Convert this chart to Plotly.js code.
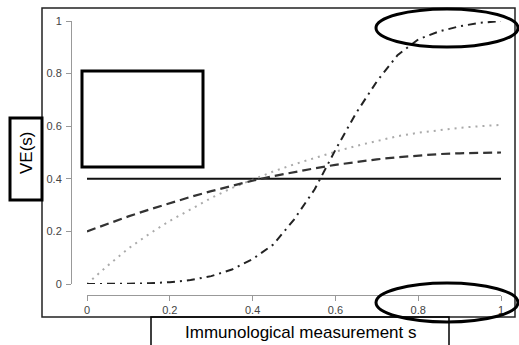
<!DOCTYPE html>
<html>
<head>
<meta charset="utf-8">
<script src="https://cdn.plot.ly/plotly-3.0.1.min.js"></script>
<style>html,body{margin:0;padding:0;background:#fff;}#chart{width:519px;height:345px;}</style>
</head>
<body>
<div id="chart"></div>
<script>
// Immunological measurement s
const sValues = [0, 0.05, 0.1, 0.15, 0.2, 0.25, 0.3, 0.35, 0.4, 0.45, 0.5, 0.55, 0.6, 0.65, 0.7, 0.75, 0.8, 0.85, 0.9, 0.95, 1];
// VE(s) curves
const veConstant = [0.4, 0.4, 0.4, 0.4, 0.4, 0.4, 0.4, 0.4, 0.4, 0.4, 0.4, 0.4, 0.4, 0.4, 0.4, 0.4, 0.4, 0.4, 0.4, 0.4, 0.4];
const veDashed   = [0.2, 0.23, 0.257, 0.283, 0.308, 0.331, 0.353, 0.373, 0.393, 0.41, 0.426, 0.44, 0.453, 0.464, 0.474, 0.482, 0.489, 0.494, 0.497, 0.499, 0.5];
const veDotted   = [0, 0.07, 0.135, 0.19, 0.24, 0.285, 0.327, 0.365, 0.398, 0.428, 0.455, 0.48, 0.503, 0.525, 0.545, 0.562, 0.575, 0.585, 0.594, 0.6, 0.605];
const veDashDot  = [0, 0, 0.001, 0.003, 0.007, 0.015, 0.03, 0.055, 0.095, 0.15, 0.245, 0.36, 0.51, 0.65, 0.77, 0.87, 0.93, 0.96, 0.98, 0.993, 1.0];
const tickVals = [0, 0.2, 0.4, 0.6, 0.8, 1];
const tickText = ['0', '0.2', '0.4', '0.6', '0.8', '1'];
const xLabel = 'Immunological measurement s';
const yLabel = 'VE(s)';

// page geometry (pixels)
const W = 519, H = 345;
const M = {l: 71, r: 18, t: 21, b: 50};
const PW = W - M.l - M.r, PH = H - M.t - M.b;
const px = x => (x - M.l) / PW;
const py = y => (H - M.b - y) / PH;

const common = {mode: 'lines', hoverinfo: 'skip', showlegend: false, cliponaxis: false};
const traces = [
  Object.assign({x: sValues, y: veConstant, line: {color: '#111', width: 2, dash: 'solid'}}, common),
  Object.assign({x: sValues, y: veDotted, line: {color: '#aaa', width: 2, dash: '2px,5px'}}, common),
  Object.assign({x: sValues, y: veDashed, line: {color: '#333', width: 2.2, dash: '9px,5px'}}, common),
  Object.assign({x: sValues, y: veDashDot, line: {color: '#222', width: 2, dash: '8px,5px,2px,5px'}}, common)
];

const boxLine = {color: '#000', width: 3};
const layout = {
  width: W, height: H,
  margin: M,
  paper_bgcolor: '#fff', plot_bgcolor: '#fff',
  font: {family: 'Liberation Sans, Arial, sans-serif', color: '#444', size: 11},
  xaxis: {
    domain: [px(87), 1], range: [0, 1], anchor: 'free', position: 0,
    showgrid: false, zeroline: false, showline: true, linecolor: '#999', linewidth: 1.2,
    ticks: 'outside', ticklen: 5, tickcolor: '#999', tickwidth: 1,
    tickvals: tickVals, ticktext: tickText, tickfont: {size: 11, color: '#444'}
  },
  yaxis: {
    domain: [py(284), 1], range: [0, 1], anchor: 'free', position: 0,
    showgrid: false, zeroline: false, showline: true, linecolor: '#999', linewidth: 1.2,
    ticks: 'outside', ticklen: 5, tickcolor: '#999', tickwidth: 1, ticklabelstandoff: 2,
    tickvals: tickVals, ticktext: tickText, tickfont: {size: 11, color: '#444'}
  },
  shapes: [
    {type: 'rect', xref: 'paper', yref: 'paper', x0: px(42), x1: px(515), y0: py(8), y1: py(317), line: {color: '#222', width: 1.5}},
    {type: 'rect', xref: 'paper', yref: 'paper', x0: px(82), x1: px(203), y0: py(71), y1: py(167), line: boxLine},
    {type: 'rect', xref: 'paper', yref: 'paper', x0: px(10), x1: px(42), y0: py(118), y1: py(200), line: boxLine, fillcolor: '#fff'},
    {type: 'rect', xref: 'paper', yref: 'paper', x0: px(151), x1: px(449), y0: py(317), y1: py(360), line: {color: '#000', width: 1.5}},
    {type: 'circle', xref: 'paper', yref: 'paper', x0: px(376), x1: px(518), y0: py(9), y1: py(47), line: boxLine},
    {type: 'circle', xref: 'paper', yref: 'paper', x0: px(376), x1: px(518), y0: py(283), y1: py(322), line: boxLine}
  ],
  annotations: [
    {xref: 'paper', yref: 'paper', x: px(300), y: py(332), text: xLabel, showarrow: false,
     font: {size: 17, color: '#000', family: 'Liberation Sans, Arial, sans-serif'}, xanchor: 'center', yanchor: 'middle'},
    {xref: 'paper', yref: 'paper', x: px(26), y: py(153), text: yLabel, showarrow: false, textangle: -90,
     font: {size: 17, color: '#000', family: 'Liberation Sans, Arial, sans-serif'}, xanchor: 'center', yanchor: 'middle'}
  ]
};

Plotly.newPlot('chart', traces, layout, {staticPlot: true, displayModeBar: false});
</script>
</body>
</html>
